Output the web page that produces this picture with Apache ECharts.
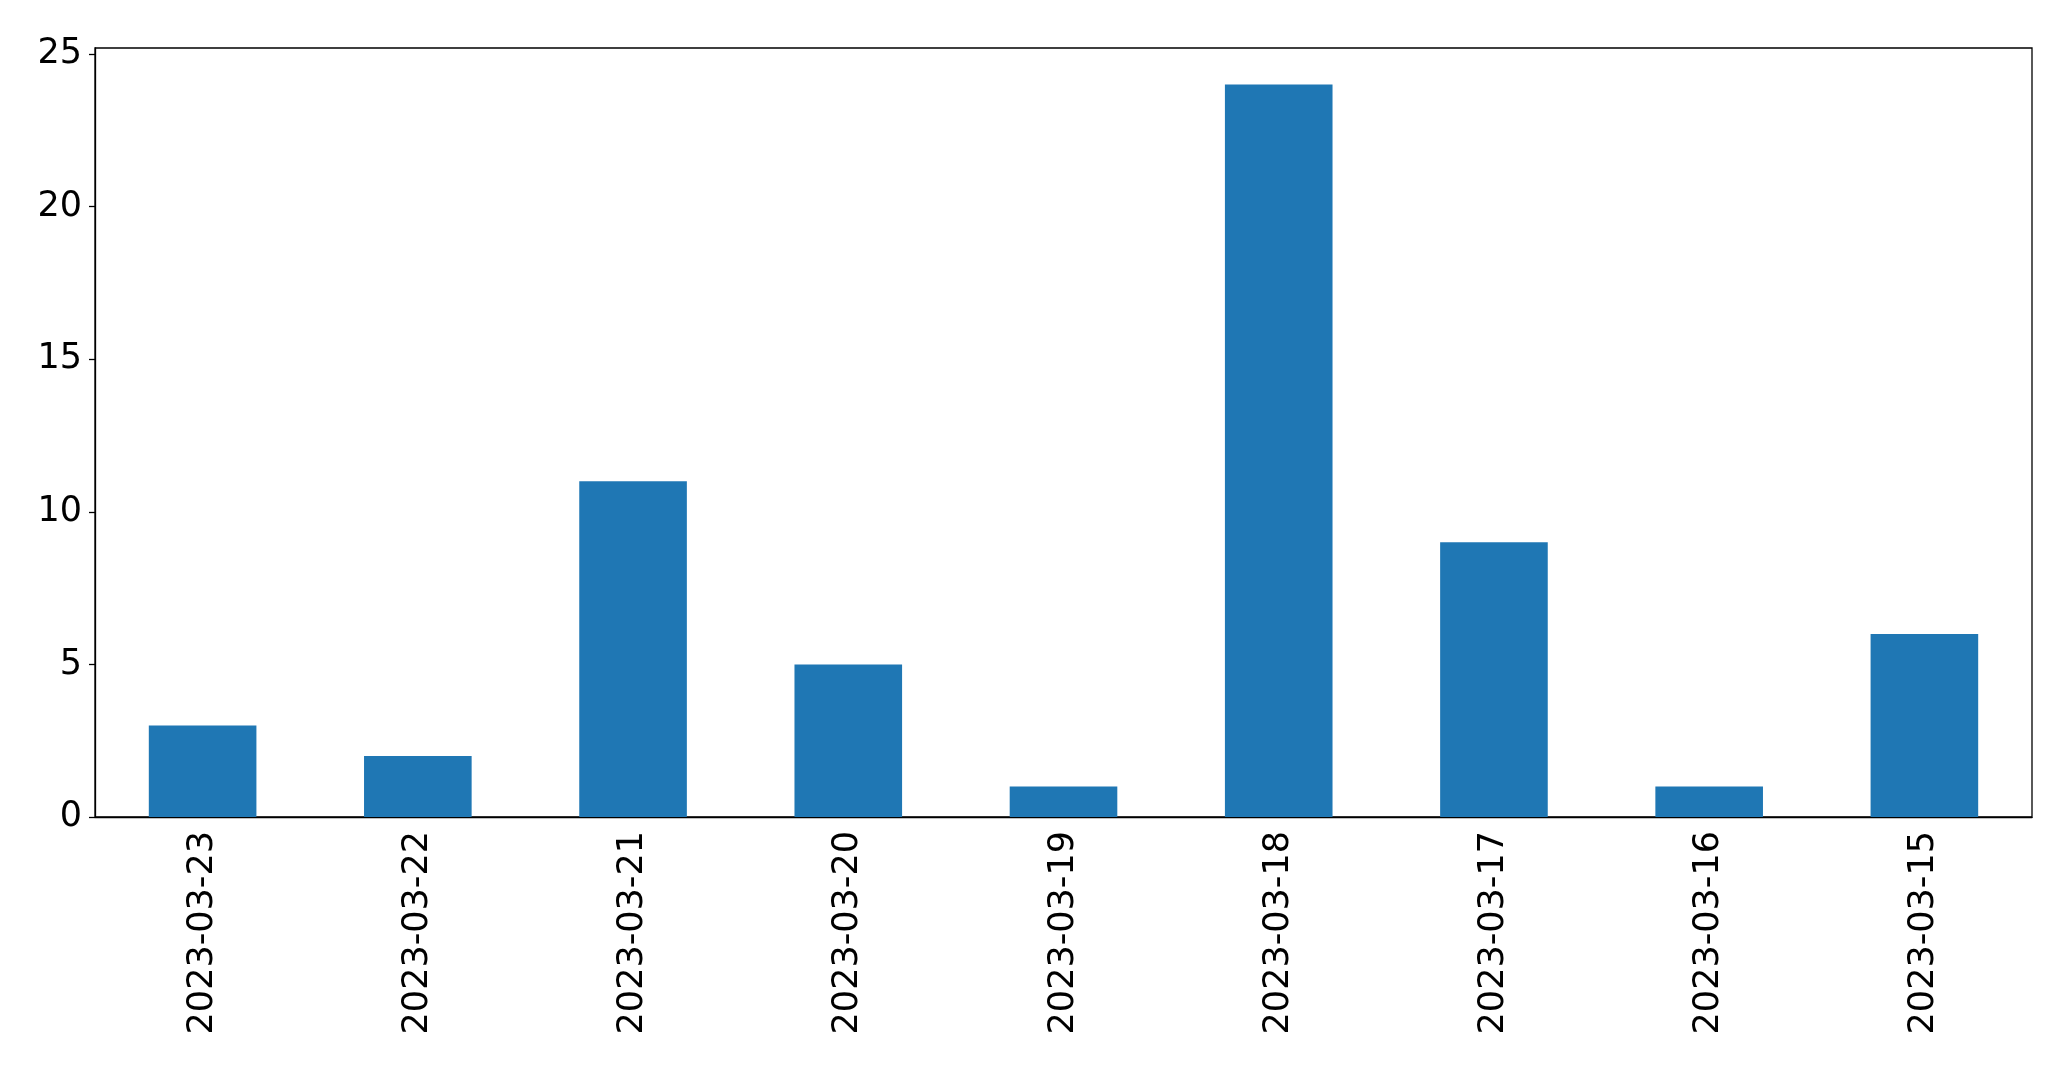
<!DOCTYPE html>
<html>
<head>
<meta charset="utf-8">
<script src="https://cdn.jsdelivr.net/npm/echarts@6/dist/echarts.min.js"></script>
<style>
	html, body { margin: 0; padding: 0; background: #fff; }
	#chart { width: 2071px; height: 1069px; }
</style>
</head>
<body>
<div id="chart"></div>
<script>
var dates = ['2023-03-23', '2023-03-22', '2023-03-21', '2023-03-20', '2023-03-19',
	'2023-03-18', '2023-03-17', '2023-03-16', '2023-03-15'];
var counts = [3, 2, 11, 5, 1, 24, 9, 1, 6];
var yTicks = [0, 5, 10, 15, 20, 25];

var chart = echarts.init(document.getElementById('chart'));
var font = 'DejaVu Sans';
option = {
	animation : false,
	textStyle : { fontFamily : font },
	grid : {
		left : 95,
		top : 48,
		right : 39,
		bottom : 252,
		show : true,
		borderColor : '#000',
		borderWidth : 1.3,
		containLabel : false
	},
	xAxis : {
		type : 'category',
		data : dates,
		axisLine : { lineStyle : { color : '#000', width : 1.3 } },
		axisTick : { alignWithLabel : true, length : 6, lineStyle : { color : '#000', width : 1.3 } },
		axisLabel : {
			rotate : 90,
			color : '#000',
			fontSize : 35,
			fontFamily : font,
			margin : 14,
			interval : 0
		}
	},
	yAxis : {
		type : 'value',
		min : 0,
		max : 25.2,
		splitLine : { show : false },
		axisLine : { show : true, lineStyle : { color : '#000', width : 1.3 } },
		axisTick : { show : true, length : 6, customValues : yTicks, lineStyle : { color : '#000', width : 1.3 } },
		axisLabel : {
			color : '#000',
			fontSize : 35,
			fontFamily : font,
			margin : 13,
			customValues : yTicks
		}
	},
	series : [ {
		type : 'bar',
		data : counts,
		barWidth : '50%',
		itemStyle : { color : '#1f77b4' }
	} ]
};
chart.setOption(option);
</script>
</body>
</html>
